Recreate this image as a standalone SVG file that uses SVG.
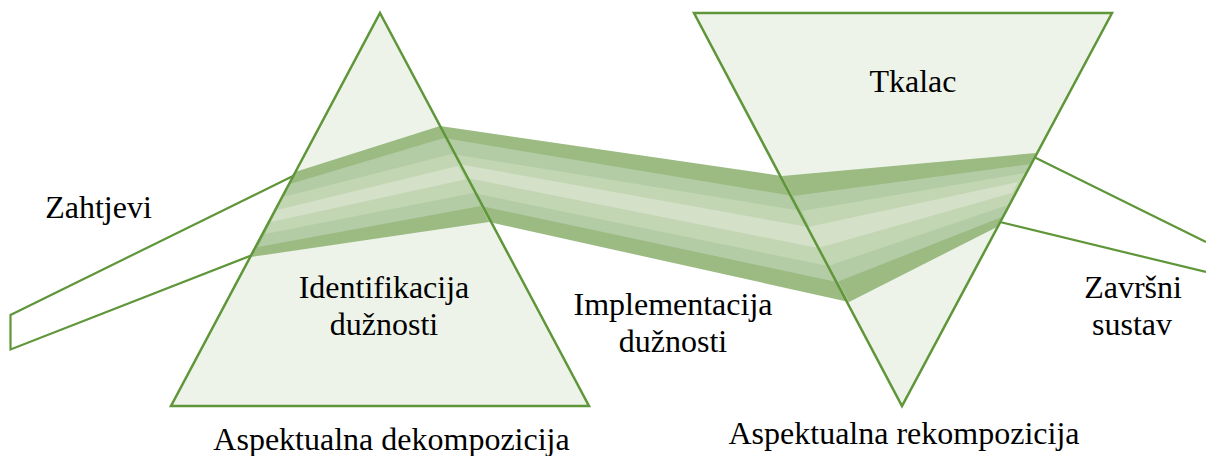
<svg xmlns="http://www.w3.org/2000/svg" width="1206" height="456" viewBox="0 0 1206 456">
<style>
.prism{fill:#eef3e9;stroke:none}
.edge{fill:none;stroke:#5f9639;stroke-width:2.5;stroke-linejoin:miter}
.ray{fill:#fff;stroke:#5f9639;stroke-width:2.2}
.b1{fill:#9bbb83}.b2{fill:#b3cca5}.b3{fill:#c3d6b3}.b4{fill:#d4e1c8}
text{font-family:"Liberation Serif","Times New Roman",serif;font-size:32px;fill:#000;text-anchor:middle}
</style>
<rect width="1206" height="456" fill="#fff"/>
<g id="connectors">
<path class="ray" d="M295 175L10.5 315V349.5L251 255.5Z"/>
<path class="ray" d="M1034 157L1206 242M1000 222L1206 272" fill="none"/>
</g>
<g id="prism-left"><polygon class="prism" points="380,13 589,406 171,406"/></g>
<g id="prism-right"><polygon class="prism" points="694,13 1112,13 902,406"/></g>
<g id="beam">
<polygon class="b1" points="295,172 440,126 489,222 251,257"/>
<polygon class="b2" points="290,184 444,138 481,206 258,247"/>
<polygon class="b3" points="283,197 452,154 473,193 265,234"/>
<polygon class="b4" points="277,210 458,166 467,179 271,222"/>
<polygon class="b1" points="440,126 782,176 849,302 489,222"/>
<polygon class="b2" points="444,138 793,196 837,282 481,206"/>
<polygon class="b3" points="452,154 802,211 828,266 473,193"/>
<polygon class="b4" points="458,164 808,227 818,248 467,178"/>
<polygon class="b1" points="782,176 1036,153 999,226 849,302"/>
<polygon class="b2" points="793,196 1031,164 1002,217 837,282"/>
<polygon class="b3" points="802,211 1025,173 1008,205 828,266"/>
<polygon class="b4" points="808,227 1018,182 1012,193 818,248"/>
</g>
<g id="prism-edges">
<polygon class="edge" points="380,13 589,406 171,406"/>
<polygon class="edge" points="694,13 1112,13 902,406"/>
</g>
<g id="labels">
<text x="98.5" y="218">Zahtjevi</text>
<text x="913" y="92">Tkalac</text>
<text x="384" y="298">Identifikacija</text>
<text x="384" y="335">dužnosti</text>
<text x="673" y="315">Implementacija</text>
<text x="673" y="352">dužnosti</text>
<text x="1133" y="298">Završni</text>
<text x="1132" y="335">sustav</text>
<text x="391.5" y="450">Aspektualna dekompozicija</text>
<text x="904" y="444">Aspektualna rekompozicija</text>
</g>
</svg>
